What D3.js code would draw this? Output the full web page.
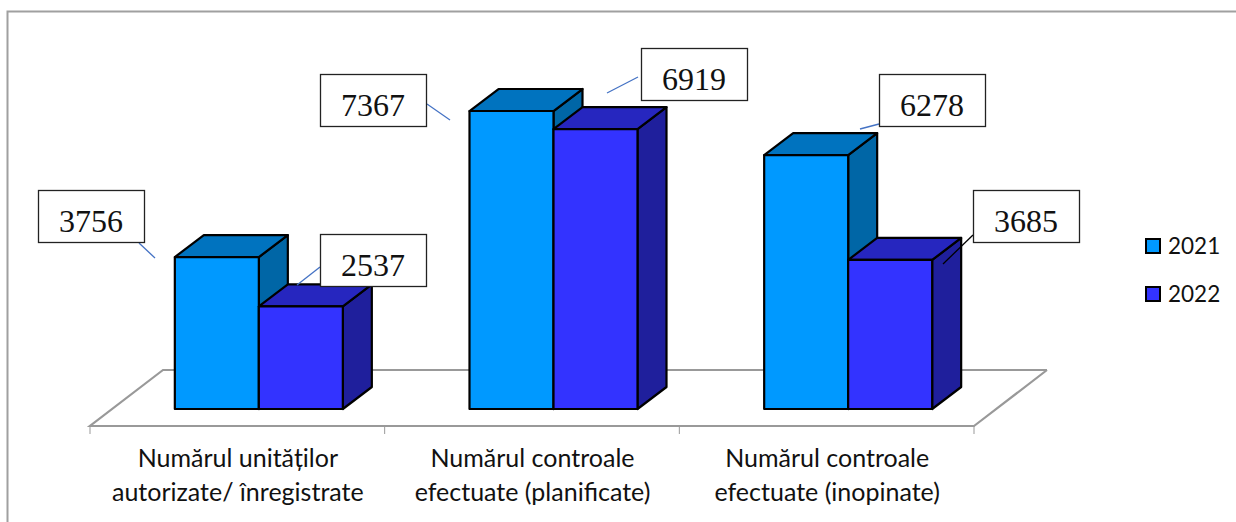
<!DOCTYPE html>
<html lang="ro">
<head>
<meta charset="UTF-8">
<title>Controale 2021-2022</title>
<script src="https://d3js.org/d3.v7.min.js"></script>
<style>
    html, body { margin: 0; padding: 0; background: #fff; }
    svg { display: block; }
    .cat { font-family: Lato, "Open Sans", sans-serif; font-size: 25px; fill: #111; }
    .legend { font-family: Lato, "Open Sans", sans-serif; font-size: 22.5px; fill: #111; }
    .val { font-family: "Liberation Serif", serif; font-size: 32px; fill: #111; }
</style>
</head>
<body>
<svg id="chart" width="1236" height="522"></svg>
<script>
// data
const categories = ["c0", "c1", "c2"];
const categoryLines = [
    ["Numărul unităților", "autorizate/ înregistrate"],
    ["Numărul controale", "efectuate (planificate)"],
    ["Numărul controale", "efectuate (inopinate)"]
];
const years = ["2021", "2022"];
const values2021 = [3756, 7367, 6278];
const values2022 = [2537, 6919, 3685];

// layout
const floor = {x0: 90, x1: 974, y: 426, dx: 73, dy: -56};
const depth = {dx: 29, dy: -22};
const base = 409;
const shift = 21.5; // bars sit part way back on the floor
const groupWidth = 168;
const colors = {
    "2021": {front: "#0099ff", top: "#0073bf", side: "#0066a6"},
    "2022": {front: "#3333ff", top: "#2626bf", side: "#1f1f9c"}
};
// box top-left and leader line, one per label, 2021 then 2022 in each category
const callouts = [
    {x: 38, y: 190, line: [139, 243, 155, 258]},
    {x: 320, y: 234, line: [320, 267, 297, 285]},
    {x: 320, y: 74, line: [427, 104, 450, 120]},
    {x: 641, y: 48, line: [638, 77, 607, 93]},
    {x: 879, y: 74, line: [879, 124, 860, 129]},
    {x: 973, y: 190, line: [973, 235, 943, 264], dark: true}
];

const svg = d3.select("#chart");

// outer frame
svg.append("path")
    .attr("d", "M7.5,522V11.5H1236")
    .attr("fill", "none")
    .attr("stroke", "#a0a0a0")
    .attr("stroke-width", 2);

const x = d3.scaleBand().domain(categories).range([floor.x0, floor.x1]);
const x1 = d3.scaleBand().domain(years).range([0, groupWidth]);
const y = d3.scaleLinear().domain([0, 8000]).range([base, base - 323.6]);

// floor of the 3d plot
svg.append("path")
    .attr("d", d3.line()([
        [floor.x0 + floor.dx + x.step() * 3, floor.y + floor.dy],
        [floor.x1, floor.y],
        [floor.x0, floor.y],
        [floor.x0 + floor.dx, floor.y + floor.dy],
        [floor.x0 + floor.dx + x.step() * 3, floor.y + floor.dy]
    ]))
    .attr("fill", "none")
    .attr("stroke", "#999")
    .attr("stroke-width", 2.2);

// ticks
svg.append("g")
    .selectAll("line")
    .data(d3.range(4))
    .join("line")
    .attr("x1", i => floor.x0 + i * x.step())
    .attr("x2", i => floor.x0 + i * x.step())
    .attr("y1", floor.y)
    .attr("y2", floor.y + 8)
    .attr("stroke", "#999");

// bars, 2021 first so the 2022 block overlaps its side
const bars = [];
categories.forEach((c, i) => {
    bars.push({c, year: "2021", value: values2021[i]});
    bars.push({c, year: "2022", value: values2022[i]});
});

const barGroup = svg.append("g")
    .attr("stroke", "#000")
    .attr("stroke-width", 2.2)
    .attr("stroke-linejoin", "round");

const barG = barGroup.selectAll("g")
    .data(bars)
    .join("g")
    .attr("transform", d => {
        const left = x(d.c) + (x.bandwidth() - groupWidth) / 2 + shift + x1(d.year);
        return `translate(${left},0)`;
    });

const w = x1.bandwidth();
barG.append("path")
    .attr("fill", d => colors[d.year].side)
    .attr("d", d => d3.line()([
        [w, y(d.value)], [w + depth.dx, y(d.value) + depth.dy],
        [w + depth.dx, y(0) + depth.dy], [w, y(0)]
    ]) + "Z");
barG.append("path")
    .attr("fill", d => colors[d.year].top)
    .attr("d", d => d3.line()([
        [0, y(d.value)], [depth.dx, y(d.value) + depth.dy],
        [w + depth.dx, y(d.value) + depth.dy], [w, y(d.value)]
    ]) + "Z");
barG.append("rect")
    .attr("fill", d => colors[d.year].front)
    .attr("width", w)
    .attr("y", d => y(d.value))
    .attr("height", d => y(0) - y(d.value));

// value boxes
const labelValues = bars.map(d => d.value);
const boxes = svg.append("g");
callouts.forEach((c, i) => {
    boxes.append("line")
        .attr("x1", c.line[0]).attr("y1", c.line[1])
        .attr("x2", c.line[2]).attr("y2", c.line[3])
        .attr("stroke", c.dark ? "#000" : "#4472c4")
        .attr("stroke-width", 1.3);
    boxes.append("rect")
        .attr("x", c.x + 0.5).attr("y", c.y + 0.5)
        .attr("width", 106).attr("height", 52)
        .attr("fill", "#fff")
        .attr("stroke", "#222")
        .attr("stroke-width", 1.3);
    boxes.append("text")
        .attr("class", "val")
        .attr("x", c.x + 53)
        .attr("y", c.y + 41.5)
        .attr("text-anchor", "middle")
        .text(labelValues[i]);
});

// category labels
const catText = svg.append("g").selectAll("text")
    .data(categories)
    .join("text")
    .attr("class", "cat")
    .attr("text-anchor", "middle")
    .attr("x", d => x(d) + x.bandwidth() / 2 + 0.5);
catText.selectAll("tspan")
    .data((d, i) => categoryLines[i])
    .join("tspan")
    .attr("x", function() { return this.parentNode.getAttribute("x"); })
    .attr("y", (d, i) => 467 + i * 33.5)
    .text(d => d);

// legend
const legend = svg.append("g").selectAll("g")
    .data(years)
    .join("g")
    .attr("transform", (d, i) => `translate(1146,${239 + i * 48})`);
legend.append("rect")
    .attr("width", 14).attr("height", 14)
    .attr("fill", d => colors[d].front)
    .attr("stroke", "#000")
    .attr("stroke-width", 2);
legend.append("text")
    .attr("class", "legend")
    .attr("x", 22)
    .attr("y", 14.5)
    .text(d => d);
</script>
</body>
</html>
